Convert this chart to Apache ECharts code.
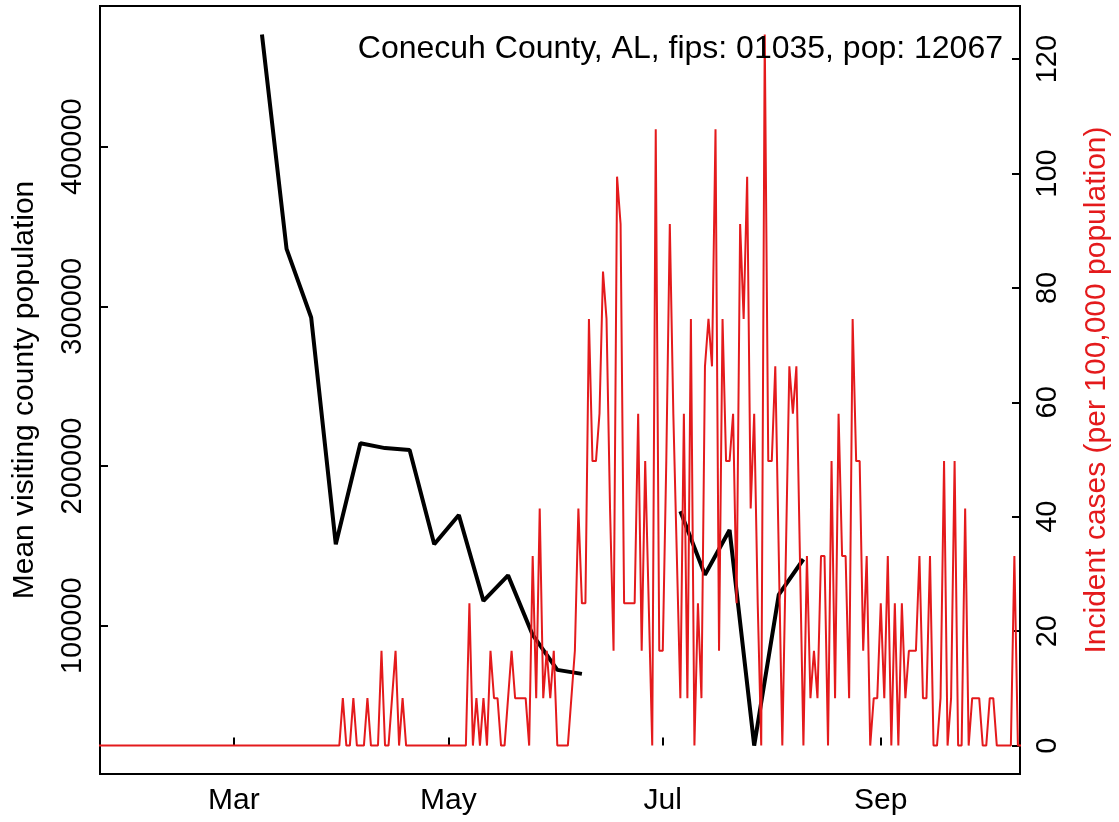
<!DOCTYPE html>
<html>
<head>
<meta charset="utf-8">
<script src="https://cdn.jsdelivr.net/npm/echarts@6/dist/echarts.min.js"></script>
<style>
  html, body { margin: 0; padding: 0; background: #fff; }
  #chart { width: 1119px; height: 822px; }
</style>
</head>
<body>
<div id="chart"></div>
<script>
const countyTitle = 'Conecuh County, AL, fips: 01035, pop: 12067'
const countyPop = 12067
const caseStart = '2020-01-22'

// daily new cases, one per day from caseStart
const dailyCases = [
  0,0,0,0,0,0,0,0,0,0, 0,0,0,0,0,0,0,0,0,0,
  0,0,0,0,0,0,0,0,0,0, 0,0,0,0,0,0,0,0,0,0,
  0,0,0,0,0,0,0,0,0,0, 0,0,0,0,0,0,0,0,0,0,
  0,0,0,0,0,0,0,0,0,0,
  1,0,0,1,0,0,0,1,0,0,0,2,0,0,1,2,0,1,
  0,0,0,0,0,0,0,0,0,0,0,0,0,0,0,0,0,0,
  3,0,1,0,1,0,2,1,1,0,0,1,2,1,1,1,1,0,
  4,1,5,1,2,1,2,0,0,0,0,1,2,5,3,3,
  9,6,6,7,10,9,5,2,12,11,3,3,3,3,7,2,6,3,0,
  13,2,2,6,11,7,4,1,7,1,9,0,3,1,8,9,8,
  13,2,9,6,6,7,3,11,9,12,5,7,3,0,15,
  6,6,8,4,0,4,8,7,8,4,0,4,1,2,1,
  4,4,0,6,1,7,4,4,1,9,6,6,2,4,0,
  1,1,3,1,4,0,3,0,3,1,2,2,2,4,1,
  1,4,0,0,1,6,0,1,6,0,0,5,0,1,1,
  1,0,0,1,1,0,0,0,0,0,4,0,0
]

const visitWeeks = [
  '2020-03-09', '2020-03-16', '2020-03-23', '2020-03-30', '2020-04-06', '2020-04-13',
  '2020-04-20', '2020-04-27', '2020-05-04', '2020-05-11', '2020-05-18', '2020-05-25',
  '2020-06-01', '2020-06-08', '2020-06-15', '2020-06-22', '2020-06-29', '2020-07-06',
  '2020-07-13', '2020-07-20', '2020-07-27', '2020-08-03', '2020-08-10'
]
const visitPop = [
  470300, 336000, 293000, 151000, 214200, 211200,
  210000, 151000, 169300, 115500, 131500, 94200,
  72300, 69800, null, null, null, 171600,
  131900, 159900, 24900, 119400, 141600
]

const monthTicks = ['2020-03-01', '2020-05-01', '2020-07-01', '2020-09-01']
const leftTicks = [100000, 200000, 300000, 400000]
const rightTicks = [0, 20, 40, 60, 80, 100, 120]

const DAY = 86400000
const FONT = 'Liberation Sans, Arial, sans-serif'
const RED = '#e41a1c'
const MONTHS = ['Jan', 'Feb', 'Mar', 'Apr', 'May', 'Jun', 'Jul', 'Aug', 'Sep', 'Oct', 'Nov', 'Dec']

const t0 = Date.parse(caseStart)
const incidence = dailyCases.map((c, i) => [t0 + i * DAY, c / countyPop * 100000])
const visits = visitWeeks.map((d, i) => [Date.parse(d), visitPop[i]])
const monthTimes = monthTicks.map(d => Date.parse(d))

const chart = echarts.init(document.getElementById('chart'), null, { renderer: 'canvas' })

const tickStyle = { show: true, inside: true, length: 8, lineStyle: { color: '#000', width: 2 } }

chart.setOption({
  animation: false,
  backgroundColor: '#fff',
  title: {
    text: countyTitle,
    right: 116,
    top: 33,
    padding: 0,
    textStyle: { fontFamily: FONT, fontSize: 32, fontWeight: 'normal', color: '#000' },
  },
  grid: {
    left: 100, right: 99, top: 6, bottom: 48,
    show: true, borderColor: '#000', borderWidth: 2,
    containLabel: false, outerBoundsMode: 'none',
  },
  xAxis: {
    // plain numeric axis holding timestamps; labels name the month
    type: 'value',
    min: t0 + 0.94 * DAY,
    max: t0 + 262.6 * DAY,
    axisLine: { show: false },
    splitLine: { show: false },
    axisTick: { ...tickStyle, customValues: monthTimes },
    axisLabel: {
      customValues: monthTimes,
      formatter: v => MONTHS[new Date(v).getUTCMonth()],
      margin: 12, fontFamily: FONT, fontSize: 30, color: '#000',
    },
  },
  yAxis: [
    {
      type: 'value',
      position: 'left',
      min: 7100, max: 488100,
      name: 'Mean visiting county population',
      nameLocation: 'middle', nameRotate: 90, nameGap: 60,
      nameTextStyle: { fontFamily: FONT, fontSize: 30, color: '#000' },
      axisLine: { show: false },
      splitLine: { show: false },
      axisTick: { ...tickStyle, customValues: leftTicks },
      axisLabel: {
        customValues: leftTicks, rotate: 90, margin: 13,
        formatter: v => String(v),
        fontFamily: FONT, fontSize: 29, color: '#000',
      },
    },
    {
      type: 'value',
      position: 'right',
      min: -4.97, max: 129.28,
      name: 'Incident cases (per 100,000 population)',
      nameLocation: 'middle', nameRotate: 90, nameGap: 62,
      nameTextStyle: { fontFamily: FONT, fontSize: 30, color: RED },
      axisLine: { show: false },
      splitLine: { show: false },
      axisTick: { ...tickStyle, customValues: rightTicks },
      axisLabel: {
        customValues: rightTicks, rotate: 90, margin: 13,
        formatter: v => String(v),
        fontFamily: FONT, fontSize: 29, color: '#000',
      },
    },
  ],
  series: [
    {
      name: 'visitors',
      type: 'line',
      yAxisIndex: 0,
      data: visits,
      symbol: 'none',
      connectNulls: false,
      lineStyle: { color: '#000', width: 4 },
      z: 2,
    },
    {
      name: 'cases',
      type: 'line',
      yAxisIndex: 1,
      data: incidence,
      symbol: 'none',
      clip: true,
      lineStyle: { color: RED, width: 2 },
      z: 3,
    },
  ],
})
</script>
</body>
</html>
